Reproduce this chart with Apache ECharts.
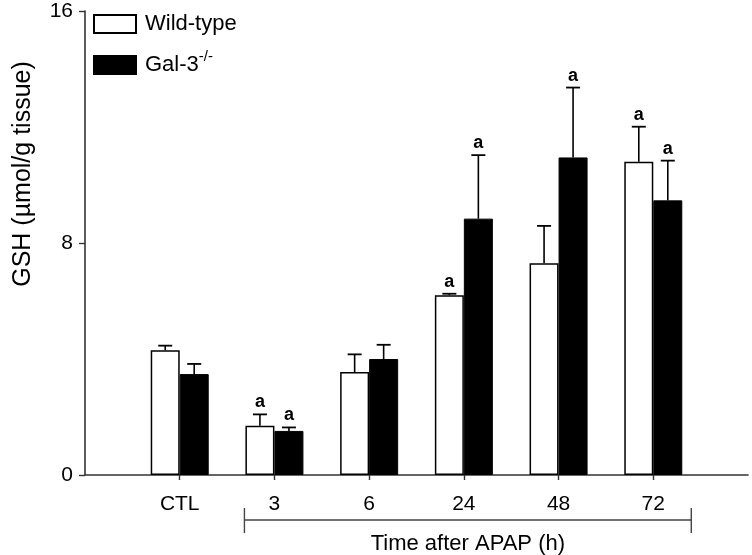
<!DOCTYPE html>
<html>
<head>
<meta charset="utf-8">
<script src="https://cdn.jsdelivr.net/npm/echarts@6/dist/echarts.min.js"></script>
<style>
  html, body { margin: 0; padding: 0; background: #fff; }
  #chart { width: 752px; height: 555px; }
</style>
</head>
<body>
<div id="chart"></div>
<script>
// 数据
var categories = ['CTL', '3', '6', '24', '48', '72'];
var wildType = [4.3, 1.7, 3.55, 6.2, 7.3, 10.8];
var wildTypeErr = [0.16, 0.39, 0.61, 0.05, 1.29, 1.21];
var wildTypeSig = [0, 1, 0, 1, 0, 1];
var gal3 = [3.48, 1.52, 4.0, 8.84, 10.95, 9.47];
var gal3Err = [0.35, 0.12, 0.49, 2.19, 2.41, 1.37];
var gal3Sig = [0, 1, 0, 1, 1, 1];
var yTicks = [0, 8, 16];

var FONT = 'Liberation Sans, Arial, sans-serif';
var BAR_W = 29;

// 两端留空位
var axisData = [''].concat(categories, ['']);
function pad(arr) { return ['-'].concat(arr, ['-']); }

function errData(mean, err, sig) {
	return categories.map(function (c, i) {
		return [i + 1, mean[i], err[i], sig[i]];
	});
}

function errRender(offset) {
	return function (params, api) {
		var idx = api.value(0), m = api.value(1), e = api.value(2), s = api.value(3);
		var b = api.coord([idx, m]);
		var t = api.coord([idx, m + e]);
		var x = b[0] + offset;
		var children = [
			{ type: 'line', shape: { x1: x, y1: b[1], x2: x, y2: t[1] }, style: { stroke: '#000', lineWidth: 1.6 } },
			{ type: 'line', shape: { x1: x - 7, y1: t[1], x2: x + 7, y2: t[1] }, style: { stroke: '#000', lineWidth: 1.8 } }
		];
		if (s) {
			children.push({
				type: 'text',
				style: { x: x, y: t[1] - 3, text: 'a', textAlign: 'center', textVerticalAlign: 'bottom',
					fill: '#000', font: 'bold 18px ' + FONT }
			});
		}
		return { type: 'group', children: children };
	};
}

function legendOf(name, top) {
	return {
		data: [name],
		orient: 'vertical',
		left: 93,
		top: top,
		padding: 0,
		itemWidth: 42,
		itemHeight: 18,
		icon: 'rect',
		textStyle: {
			fontFamily: FONT, fontSize: 22, color: '#000',
			padding: [0, 0, 0, 4],
			rich: {
				base: { fontFamily: FONT, fontSize: 22, color: '#000', lineHeight: 22, verticalAlign: 'bottom' },
				sup: { fontFamily: FONT, fontSize: 15, color: '#000', lineHeight: 15, verticalAlign: 'bottom', padding: [0, 0, 12, 0] }
			}
		},
		formatter: function (n) {
			return n === 'Gal-3' ? '{base|Gal-3}{sup|-/-}' : n;
		}
	};
}

var myChart = echarts.init(document.getElementById('chart'));
var option = {
	animation: false,
	backgroundColor: '#fff',
	grid: { left: 85, right: 4, top: 11, bottom: 80 },
	legend: [legendOf('Wild-type', 13), legendOf('Gal-3', 49)],
	xAxis: {
		type: 'category',
		data: axisData,
		boundaryGap: false,
		axisLine: { lineStyle: { color: '#333', width: 1.6 } },
		axisTick: {
			length: 5,
			lineStyle: { color: '#333', width: 1.4 },
			interval: function (i, v) { return v !== ''; }
		},
		axisLabel: { margin: 19, fontFamily: FONT, fontSize: 21, color: '#000', interval: 0 },
		splitLine: { show: false }
	},
	yAxis: {
		type: 'value',
		min: yTicks[0],
		max: yTicks[yTicks.length - 1],
		interval: yTicks[1] - yTicks[0],
		axisLine: { show: true, lineStyle: { color: '#333', width: 1.6 } },
		axisTick: { show: true, length: 6, lineStyle: { color: '#333', width: 1.4 } },
		axisLabel: { margin: 12, fontFamily: FONT, fontSize: 21, color: '#000' },
		splitLine: { show: false }
	},
	series: [
		{
			name: 'Wild-type',
			type: 'bar',
			data: pad(wildType),
			barWidth: BAR_W,
			barGap: '0%',
			itemStyle: { color: '#fff', borderColor: '#000', borderWidth: 1.5 }
		},
		{
			name: 'Gal-3',
			type: 'bar',
			data: pad(gal3),
			barWidth: BAR_W,
			barGap: '0%',
			itemStyle: { color: '#000', borderColor: '#000', borderWidth: 1 }
		},
		{
			type: 'custom',
			renderItem: errRender(-BAR_W / 2),
			data: errData(wildType, wildTypeErr, wildTypeSig),
			z: 5
		},
		{
			type: 'custom',
			renderItem: errRender(BAR_W / 2),
			data: errData(gal3, gal3Err, gal3Sig),
			z: 5
		}
	]
};
myChart.setOption(option);

// 时间括号 + 标题
var x1 = myChart.convertToPixel({ xAxisIndex: 0 }, 2) - 30;
var x2 = myChart.convertToPixel({ xAxisIndex: 0 }, 6) + 38;
var yb = 520;
myChart.setOption({
	graphic: [
		{ type: 'line', shape: { x1: x1, y1: yb, x2: x2, y2: yb }, style: { stroke: '#444', lineWidth: 1.4 } },
		{ type: 'line', shape: { x1: x1, y1: yb - 12, x2: x1, y2: yb + 13 }, style: { stroke: '#444', lineWidth: 1.4 } },
		{ type: 'line', shape: { x1: x2, y1: yb - 12, x2: x2, y2: yb + 13 }, style: { stroke: '#444', lineWidth: 1.4 } },
		{ type: 'text', x: (x1 + x2) / 2, y: 544,
			style: { text: 'Time after APAP (h)', textAlign: 'center', textVerticalAlign: 'middle', fill: '#000', font: '22px ' + FONT } },
		{ type: 'text', x: 23, y: 174, rotation: Math.PI / 2,
			style: { text: 'GSH (\u00b5mol/g tissue)', textAlign: 'center', textVerticalAlign: 'middle', fill: '#000', font: '25px ' + FONT } }
	]
});
</script>
</body>
</html>
